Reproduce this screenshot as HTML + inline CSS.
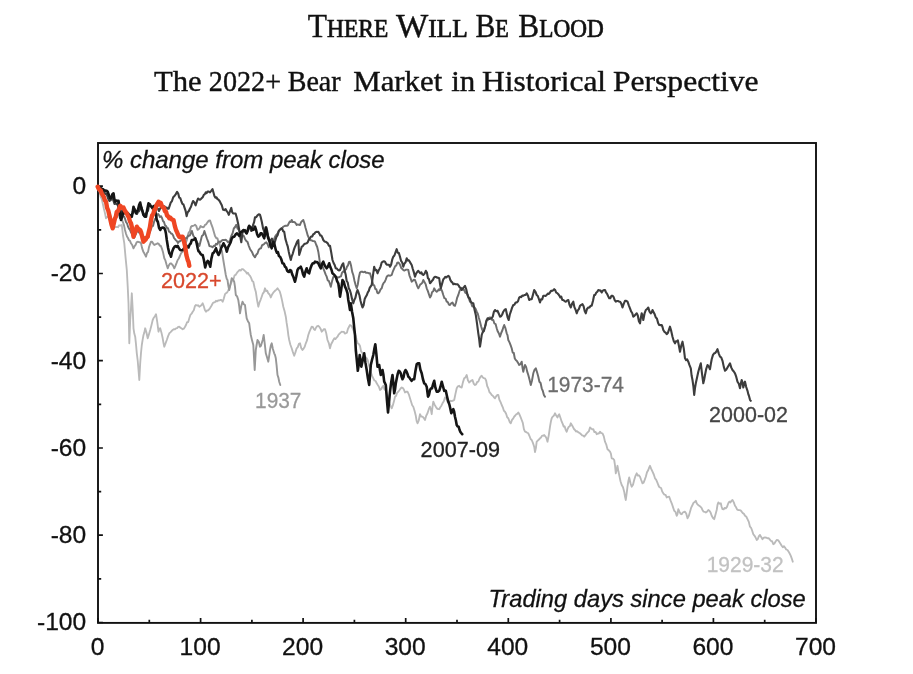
<!DOCTYPE html>
<html><head><meta charset="utf-8"><title>There Will Be Blood</title>
<style>
html,body{margin:0;padding:0;background:#fff;}
body{width:913px;height:674px;overflow:hidden;position:relative;font-family:"Liberation Sans",Arial,sans-serif;}
svg{position:absolute;left:0;top:0;will-change:transform;}
svg text{font-family:"Liberation Sans",Arial,sans-serif;}
svg .ser text{font-family:"Liberation Serif","Times New Roman",serif;}
</style></head><body>
<svg width="913" height="674" viewBox="0 0 913 674">
<rect x="98.0" y="143.0" width="718.0" height="479.9" fill="none" stroke="#111" stroke-width="1.9"/>
<path d="M98.0 622.9 V618.0 M149.3 622.9 V619.7 M200.6 622.9 V618.0 M251.9 622.9 V619.7 M303.1 622.9 V618.0 M354.4 622.9 V619.7 M405.7 622.9 V618.0 M457.0 622.9 V619.7 M508.3 622.9 V618.0 M559.6 622.9 V619.7 M610.9 622.9 V618.0 M662.1 622.9 V619.7 M713.4 622.9 V618.0 M764.7 622.9 V619.7 M816.0 622.9 V618.0 M98.0 622.5 H102.9 M98.0 578.8 H101.2 M98.0 535.2 H102.9 M98.0 491.6 H101.2 M98.0 448.0 H102.9 M98.0 404.4 H101.2 M98.0 360.7 H102.9 M98.0 317.1 H101.2 M98.0 273.5 H102.9 M98.0 229.9 H101.2 M98.0 186.2 H102.9" stroke="#111" stroke-width="1.7" fill="none"/>
<path d="M97.7 186.7 L98.7 189.5 L99.7 192.3 L100.7 197.1 L101.7 198.7 L102.7 203.3 L103.8 208.4 L104.9 212.9 L106.0 218.3 L107.1 216.9 L108.2 217.2 L109.3 216.7 L110.4 219.1 L111.6 224.2 L112.7 228.3 L113.8 227.2 L114.8 226.9 L115.9 227.2 L117.0 227.0 L118.0 227.2 L118.9 225.5 L119.9 225.3 L120.8 225.6 L121.8 225.0 L123.0 235.5 L124.3 243.3 L125.5 256.9 L126.8 270.0 L127.7 286.3 L128.5 303.3 L129.3 343.3 L130.2 320.0 L131.0 308.1 L131.8 293.3 L132.7 309.4 L133.5 328.3 L134.3 333.6 L135.2 336.7 L136.0 344.3 L136.8 353.3 L137.7 360.5 L138.5 370.0 L139.3 380.0 L140.2 363.3 L141.0 353.0 L141.8 345.0 L142.7 339.4 L143.5 335.0 L144.3 332.6 L145.2 328.3 L146.4 332.3 L147.7 338.3 L148.9 334.4 L150.2 330.0 L151.4 325.4 L152.7 320.0 L153.8 317.7 L154.9 316.3 L156.0 314.2 L157.2 321.6 L158.5 331.7 L159.3 328.6 L160.2 328.3 L161.4 332.4 L162.7 338.3 L163.5 343.1 L164.3 346.7 L165.6 343.1 L166.8 340.0 L168.1 336.1 L169.3 333.3 L170.4 332.4 L171.6 331.0 L172.7 330.0 L173.8 329.1 L174.9 329.4 L176.0 328.3 L177.1 328.1 L178.2 326.8 L179.3 326.7 L180.4 327.7 L181.6 328.4 L182.7 329.2 L183.8 328.7 L184.9 327.0 L186.0 325.0 L187.1 322.1 L188.2 322.0 L189.3 318.3 L190.4 314.9 L191.6 313.7 L192.7 311.7 L193.8 310.3 L194.9 306.2 L196.0 305.0 L197.1 305.5 L198.2 305.3 L199.3 306.7 L200.4 306.0 L201.6 305.0 L202.7 303.3 L203.8 306.3 L204.9 310.1 L206.0 311.7 L207.1 310.5 L208.2 310.4 L209.3 309.2 L210.4 307.5 L211.6 305.5 L212.7 303.3 L213.8 302.4 L214.9 302.3 L216.0 300.8 L217.1 301.3 L218.1 300.4 L219.1 300.5 L220.2 300.0 L221.4 300.0 L222.7 301.7 L223.8 298.6 L225.0 294.2 L226.1 293.1 L227.1 292.5 L228.1 290.6 L229.2 288.3 L230.3 284.9 L231.4 282.4 L232.5 280.0 L233.6 278.8 L234.6 275.3 L235.6 274.9 L236.7 273.3 L237.7 271.8 L238.7 270.8 L239.7 269.9 L240.7 270.6 L241.7 269.2 L242.7 269.1 L243.8 269.9 L244.8 270.9 L245.8 271.7 L246.9 273.6 L247.9 272.8 L248.9 274.7 L250.0 275.8 L251.1 277.9 L252.2 280.9 L253.3 281.7 L254.6 287.7 L255.8 291.7 L257.1 300.3 L258.3 306.7 L259.4 302.7 L260.6 299.8 L261.7 296.7 L262.8 293.5 L263.9 292.3 L265.0 288.3 L266.1 291.2 L267.2 290.7 L268.3 293.3 L269.6 294.5 L270.8 297.5 L271.9 294.8 L273.1 292.9 L274.2 291.7 L275.3 290.5 L276.4 289.6 L277.5 288.3 L278.6 289.8 L279.7 291.2 L280.8 295.0 L282.1 300.6 L283.3 306.7 L284.6 311.3 L285.8 316.7 L286.6 322.7 L287.5 328.3 L288.4 335.6 L289.2 340.0 L290.4 344.7 L291.7 348.3 L292.9 352.1 L294.2 355.8 L295.4 352.4 L296.7 348.3 L297.8 347.1 L298.9 343.8 L300.0 343.3 L301.2 347.9 L302.5 350.0 L303.6 348.6 L304.7 346.7 L305.8 343.3 L307.1 340.1 L308.3 335.0 L309.4 331.9 L310.6 329.2 L311.7 326.7 L312.8 326.9 L313.9 329.2 L315.0 330.0 L316.1 327.5 L317.2 326.1 L318.3 325.8 L319.4 326.9 L320.6 328.8 L321.7 331.7 L322.8 330.5 L323.9 329.1 L325.0 329.2 L326.2 333.1 L327.5 340.0 L328.8 343.1 L330.0 348.3 L331.1 344.3 L332.2 342.3 L333.3 340.0 L334.4 338.2 L335.4 339.1 L336.4 337.8 L337.5 336.7 L338.6 334.6 L339.6 333.6 L340.6 332.6 L341.7 331.7 L342.7 331.9 L343.8 331.8 L344.8 333.5 L345.8 333.3 L346.9 332.7 L347.9 329.0 L348.9 327.0 L350.0 325.0 L351.1 325.5 L352.2 327.3 L353.3 330.0 L354.4 332.8 L355.6 335.9 L356.7 340.0 L357.8 343.5 L358.9 344.0 L360.0 346.0 L361.1 351.4 L362.2 352.6 L363.3 355.0 L364.4 355.3 L365.6 357.3 L366.7 358.3 L367.8 360.2 L368.9 365.1 L370.0 368.3 L371.1 373.1 L372.2 376.1 L373.3 378.3 L374.4 380.5 L375.6 381.0 L376.7 383.3 L377.8 385.1 L378.9 386.7 L380.0 390.0 L381.1 389.3 L382.2 387.3 L383.3 385.8 L384.4 389.2 L385.6 390.3 L386.7 393.3 L387.7 395.4 L388.7 400.3 L389.7 403.8 L390.7 406.4 L391.7 408.3 L392.8 405.4 L393.9 401.6 L395.0 396.7 L396.1 395.7 L397.2 392.6 L398.3 391.7 L399.4 390.3 L400.6 388.5 L401.7 387.5 L402.8 387.9 L403.9 389.6 L405.0 392.5 L406.2 391.7 L407.5 391.7 L408.8 394.3 L410.0 398.3 L411.1 401.7 L412.2 405.3 L413.3 406.7 L414.6 411.1 L415.8 415.8 L416.6 420.9 L417.5 423.3 L418.8 420.3 L420.0 414.2 L421.2 416.5 L422.5 416.7 L423.8 418.0 L425.0 420.0 L426.2 415.8 L427.5 413.3 L428.8 409.2 L430.0 406.7 L430.9 409.5 L431.7 414.2 L432.5 407.0 L433.3 401.7 L434.6 404.6 L435.8 406.7 L436.9 408.4 L438.1 409.1 L439.2 409.2 L440.3 407.2 L441.4 405.7 L442.5 403.3 L443.8 401.3 L445.0 397.5 L446.2 398.4 L447.5 401.7 L448.6 401.7 L449.7 401.8 L450.8 400.8 L451.9 401.0 L453.1 400.7 L454.2 400.0 L455.4 394.1 L456.7 388.3 L457.9 386.3 L459.2 385.8 L460.4 387.2 L461.7 387.5 L462.9 382.4 L464.2 378.3 L465.4 377.4 L466.7 375.0 L467.9 380.2 L469.2 382.5 L470.3 381.4 L471.4 380.6 L472.5 380.0 L473.8 383.9 L475.0 385.0 L476.1 384.4 L477.2 382.0 L478.3 381.7 L479.4 378.7 L480.6 376.8 L481.7 375.8 L482.8 377.5 L483.9 378.1 L485.0 378.3 L486.1 380.5 L487.2 386.0 L488.3 388.3 L489.4 392.0 L490.6 393.3 L491.7 395.0 L492.8 395.8 L493.9 397.3 L495.0 398.3 L496.1 396.4 L497.2 395.0 L498.3 395.0 L499.4 399.8 L500.6 402.1 L501.7 405.0 L502.8 407.3 L503.9 410.8 L505.0 411.7 L506.1 413.7 L507.2 417.3 L508.3 418.3 L509.6 421.8 L510.8 423.3 L512.0 419.9 L513.3 418.3 L514.3 416.5 L515.3 415.5 L516.3 414.2 L517.3 413.9 L518.3 412.5 L519.4 414.3 L520.6 417.2 L521.7 420.0 L522.8 422.8 L523.9 429.1 L525.0 431.7 L526.1 432.0 L527.2 432.7 L528.3 433.3 L529.4 435.8 L530.6 439.0 L531.7 440.0 L533.0 443.1 L534.2 446.7 L535.0 452.0 L535.9 448.1 L536.7 441.7 L537.8 440.6 L538.9 439.5 L540.0 438.3 L541.0 437.5 L542.1 435.6 L543.2 435.7 L544.2 435.0 L545.3 436.3 L546.4 437.9 L547.5 441.7 L548.8 435.1 L550.0 426.7 L550.9 421.5 L551.7 418.3 L552.8 416.6 L553.9 415.6 L555.0 413.3 L556.2 415.6 L557.5 417.5 L558.4 415.3 L559.2 414.2 L560.5 418.0 L561.7 421.7 L562.7 423.9 L563.7 426.6 L564.7 426.5 L565.7 429.9 L566.7 431.7 L567.7 428.8 L568.8 426.8 L569.8 426.2 L570.8 423.3 L571.8 425.0 L572.9 426.8 L574.0 429.0 L575.0 430.0 L576.0 431.5 L577.0 431.2 L578.0 432.2 L579.0 432.7 L580.0 433.3 L581.0 434.2 L582.1 435.4 L583.2 435.7 L584.2 436.7 L585.3 435.4 L586.4 433.8 L587.5 432.5 L588.8 431.4 L590.0 427.5 L591.1 428.4 L592.2 429.4 L593.3 429.2 L594.4 432.1 L595.6 431.9 L596.7 434.2 L597.8 433.5 L598.9 433.5 L600.0 431.7 L601.2 433.2 L602.5 433.3 L603.8 436.4 L605.0 441.7 L606.2 444.3 L607.5 449.2 L608.8 450.3 L610.0 451.7 L610.9 453.7 L611.7 458.3 L613.0 458.6 L614.2 460.0 L615.0 465.3 L615.8 473.3 L616.6 470.1 L617.5 465.8 L618.4 471.3 L619.2 475.0 L620.5 481.2 L621.7 485.0 L623.0 487.3 L624.2 491.7 L625.0 496.5 L625.8 500.0 L626.6 493.8 L627.5 486.7 L628.4 481.0 L629.2 477.5 L630.5 483.3 L631.7 486.7 L633.0 484.8 L634.2 480.0 L635.5 475.8 L636.7 473.3 L637.8 475.5 L638.9 475.3 L640.0 476.7 L641.2 480.0 L642.5 483.3 L643.6 482.6 L644.7 479.9 L645.8 476.7 L647.0 472.3 L648.3 470.0 L649.1 467.7 L650.0 465.8 L651.2 468.8 L652.5 471.7 L653.8 474.5 L655.0 478.3 L656.1 479.6 L657.2 482.2 L658.3 485.0 L659.1 486.8 L660.0 487.5 L661.1 488.0 L662.2 491.5 L663.3 493.3 L664.4 494.6 L665.6 494.9 L666.7 497.5 L668.0 496.8 L669.2 496.7 L670.5 500.4 L671.7 503.3 L673.0 507.1 L674.2 510.8 L675.5 511.9 L676.7 515.8 L677.5 514.0 L678.3 509.2 L679.4 511.6 L680.6 513.8 L681.7 514.2 L682.8 512.5 L683.9 512.0 L685.0 511.7 L686.2 513.6 L687.5 518.3 L688.8 515.9 L690.0 511.7 L691.2 507.6 L692.5 505.0 L693.6 502.7 L694.7 502.0 L695.8 500.8 L696.9 503.6 L698.1 505.0 L699.2 505.8 L700.3 506.6 L701.4 507.7 L702.5 510.0 L703.6 511.7 L704.7 511.8 L705.8 512.5 L707.0 511.7 L708.3 510.0 L709.4 510.8 L710.6 512.6 L711.7 515.8 L713.0 518.0 L714.2 519.2 L715.5 514.4 L716.7 510.0 L717.5 504.9 L718.3 502.5 L719.5 503.7 L720.8 503.3 L721.6 506.7 L722.5 509.2 L723.6 509.4 L724.7 507.9 L725.8 508.3 L727.0 506.9 L728.3 503.3 L729.3 501.6 L730.4 502.4 L731.5 500.7 L732.5 500.0 L733.8 502.4 L735.0 505.8 L736.1 507.3 L737.2 509.7 L738.3 510.0 L739.4 510.1 L740.6 510.4 L741.7 511.7 L742.8 513.1 L743.9 513.8 L745.0 515.8 L746.2 516.5 L747.5 519.2 L748.8 521.9 L750.0 526.7 L751.1 527.8 L752.2 530.8 L753.3 534.2 L754.4 535.6 L755.6 537.5 L756.7 540.0 L757.8 539.0 L758.9 536.1 L760.0 535.0 L761.2 537.1 L762.5 539.2 L763.8 537.7 L765.0 537.5 L766.2 537.6 L767.5 538.3 L768.6 538.1 L769.7 539.4 L770.8 540.8 L772.0 541.2 L773.3 544.2 L774.4 543.4 L775.6 541.5 L776.7 540.0 L778.0 540.2 L779.2 541.7 L780.5 543.7 L781.7 545.8 L782.8 547.2 L783.9 546.2 L785.0 547.5 L786.2 549.5 L787.5 550.0 L788.8 551.9 L790.0 554.2 L790.9 556.2 L791.7 558.3 L792.8 561.7" fill="none" stroke="#bababa" stroke-width="1.85" stroke-linejoin="round" stroke-linecap="round"/>
<path d="M98.0 187.1 L99.0 189.2 L100.0 189.4 L101.0 191.0 L102.0 193.0 L103.0 195.6 L104.0 197.0 L105.0 201.2 L106.0 201.8 L107.0 205.0 L108.0 209.0 L109.0 211.6 L110.0 214.0 L111.0 218.4 L112.0 221.7 L113.0 226.0 L114.0 222.9 L115.0 219.3 L116.0 218.0 L117.0 215.7 L118.0 214.2 L119.0 214.0 L120.0 216.7 L121.0 217.2 L122.0 220.0 L123.0 222.3 L124.0 225.4 L125.0 230.0 L126.0 233.7 L127.0 236.5 L128.0 238.0 L129.0 240.3 L130.0 240.9 L131.0 243.3 L132.2 245.0 L133.5 248.3 L134.6 246.1 L135.6 244.9 L136.6 242.4 L137.7 241.7 L138.8 242.1 L139.9 242.3 L141.0 243.3 L142.1 248.1 L143.2 251.4 L144.3 253.3 L145.2 255.1 L146.0 256.7 L147.0 252.9 L148.0 252.1 L149.0 247.1 L150.0 244.3 L151.0 241.7 L152.1 241.7 L153.2 243.6 L154.3 245.0 L155.4 244.4 L156.6 243.9 L157.7 243.3 L158.7 243.8 L159.8 245.8 L160.8 245.8 L161.8 248.3 L163.1 252.6 L164.3 258.3 L165.4 260.4 L166.6 264.7 L167.7 268.3 L168.8 265.4 L169.9 263.7 L171.0 263.3 L172.1 264.4 L173.2 265.9 L174.3 268.3 L175.4 265.8 L176.6 262.9 L177.7 260.0 L178.8 258.5 L179.9 256.0 L181.0 253.3 L182.1 252.2 L183.2 251.0 L184.3 248.3 L185.6 243.8 L186.8 240.0 L187.8 235.6 L188.8 232.3 L189.8 231.7 L190.9 227.0 L191.9 226.0 L192.9 226.0 L194.0 225.5 L195.0 224.8 L196.2 225.9 L197.5 229.8 L198.5 229.4 L199.6 228.2 L200.6 226.0 L201.8 226.9 L203.1 227.3 L204.1 226.6 L205.0 224.8 L206.2 224.3 L207.5 222.3 L208.8 220.6 L210.0 220.4 L211.2 223.9 L212.5 227.3 L213.8 231.7 L215.0 236.0 L216.2 238.0 L217.5 238.5 L218.4 241.9 L219.4 243.5 L220.7 248.3 L221.9 251.0 L223.3 260.0 L224.6 267.8 L225.8 275.0 L226.7 278.7 L227.5 280.0 L228.3 285.6 L229.2 290.0 L230.4 284.7 L231.7 278.3 L232.9 279.3 L234.2 281.7 L235.0 286.9 L235.8 295.0 L237.1 296.4 L238.3 300.0 L239.2 306.2 L240.0 313.3 L241.2 306.3 L242.5 301.7 L243.8 304.2 L245.0 305.0 L245.8 311.8 L246.7 318.3 L247.9 321.2 L249.2 323.3 L250.0 329.5 L250.8 335.0 L252.1 340.6 L253.3 345.0 L254.7 370.0 L255.8 350.0 L256.6 345.0 L257.5 340.0 L258.8 341.8 L260.0 346.7 L260.9 345.9 L261.7 343.3 L262.7 339.9 L263.7 335.0 L264.8 344.2 L265.8 353.3 L267.1 357.6 L268.3 361.7 L269.1 356.3 L270.0 350.0 L270.9 345.3 L271.7 343.3 L272.9 349.0 L274.2 353.3 L275.0 355.0 L275.8 358.3 L276.6 365.3 L277.5 375.0 L278.4 377.6 L279.2 381.7 L280.3 385.0" fill="none" stroke="#979797" stroke-width="1.9" stroke-linejoin="round" stroke-linecap="round"/>
<path d="M98.0 187.1 L99.0 189.4 L100.0 189.5 L101.0 192.0 L102.0 194.7 L103.0 197.5 L104.0 198.0 L105.0 201.0 L106.0 203.6 L107.0 207.0 L108.0 209.9 L109.0 213.6 L110.0 216.0 L111.0 219.5 L112.0 221.7 L113.0 224.0 L114.0 221.4 L115.0 216.7 L116.0 215.0 L117.0 212.3 L118.0 211.0 L119.0 210.0 L120.0 212.0 L121.0 212.2 L122.0 214.0 L123.0 216.2 L124.0 216.5 L125.0 218.6 L126.0 222.0 L127.0 223.3 L128.0 226.5 L129.0 228.6 L130.0 230.0 L131.0 232.5 L132.0 233.4 L133.0 236.1 L134.0 238.0 L135.0 235.9 L136.0 233.9 L137.0 230.8 L138.0 230.0 L139.0 232.6 L140.0 232.2 L141.0 235.8 L142.0 236.0 L143.0 238.0 L144.0 236.9 L145.0 238.9 L146.0 240.0 L147.0 239.0 L148.0 237.5 L149.0 233.8 L150.0 232.0 L151.0 228.8 L152.0 226.1 L153.0 225.9 L154.0 222.0 L155.0 219.1 L156.0 218.3 L157.0 214.9 L158.0 214.0 L159.0 215.1 L160.0 217.0 L161.0 216.2 L162.0 218.0 L163.0 221.0 L164.0 222.0 L165.0 225.2 L166.0 226.0 L167.0 228.0 L168.0 228.3 L169.0 231.6 L170.0 232.0 L171.0 233.5 L172.0 233.7 L173.0 235.2 L174.0 238.0 L175.0 239.2 L176.0 240.4 L177.0 241.3 L178.0 243.0 L179.0 241.5 L180.0 241.2 L181.0 240.4 L182.0 240.0 L183.0 240.1 L184.0 238.1 L185.0 239.0 L186.0 238.0 L186.9 238.0 L187.9 235.9 L188.8 236.0 L189.8 235.5 L190.9 233.3 L191.9 231.0 L193.2 235.4 L194.4 237.3 L195.7 239.1 L196.9 242.3 L198.2 243.8 L199.4 246.0 L200.7 240.7 L201.9 236.0 L203.2 235.0 L204.4 231.0 L205.7 235.0 L206.9 238.5 L208.2 241.8 L209.4 246.0 L210.4 246.3 L211.5 246.5 L212.5 247.3 L213.8 245.8 L215.0 246.0 L216.0 243.8 L217.1 244.4 L218.1 242.3 L219.2 241.5 L220.2 242.2 L221.3 241.0 L222.2 240.3 L223.2 240.0 L224.1 240.1 L225.0 239.8 L226.0 240.0 L227.1 241.2 L228.1 242.3 L229.2 241.6 L230.2 239.3 L231.3 236.0 L232.6 233.2 L233.8 228.5 L235.1 227.0 L236.3 224.8 L237.6 228.6 L238.8 229.8 L240.1 233.7 L241.3 234.8 L242.6 235.5 L243.8 236.0 L245.1 239.2 L246.3 241.0 L247.6 242.1 L248.8 246.0 L250.1 249.2 L251.3 251.0 L252.2 252.4 L253.2 254.9 L254.1 256.1 L255.0 257.3 L256.2 254.8 L257.5 253.5 L258.8 249.6 L260.0 248.5 L261.0 248.3 L262.1 245.1 L263.1 244.8 L264.2 243.9 L265.2 242.8 L266.3 242.3 L267.6 244.2 L268.8 247.3 L270.1 245.5 L271.3 242.3 L272.6 242.1 L273.8 239.8 L275.1 236.6 L276.3 234.8 L277.6 233.3 L278.8 231.0 L279.7 229.7 L280.6 229.4 L281.6 228.1 L282.5 227.5 L283.6 226.5 L284.6 226.0 L285.6 225.7 L286.7 225.8 L287.7 225.6 L288.7 223.5 L289.7 221.6 L290.7 222.1 L291.7 220.0 L292.7 222.1 L293.7 221.9 L294.7 222.2 L295.7 223.3 L296.7 225.0 L297.8 224.4 L298.9 224.8 L300.0 225.0 L301.1 222.2 L302.2 221.0 L303.3 220.0 L304.4 223.2 L305.6 228.0 L306.7 231.7 L307.8 235.7 L308.9 238.0 L310.0 240.0 L311.0 240.2 L312.0 240.5 L313.0 241.1 L314.0 241.1 L315.0 241.7 L316.1 244.5 L317.2 247.0 L318.3 251.7 L319.1 256.8 L320.0 263.3 L321.1 266.2 L322.2 265.6 L323.3 268.3 L324.4 271.1 L325.6 274.3 L326.7 276.7 L327.7 280.3 L328.8 280.8 L329.8 283.5 L330.8 286.7 L332.1 281.1 L333.3 277.0 L334.4 276.8 L335.6 276.9 L336.7 277.0 L337.8 277.6 L338.9 277.3 L340.0 276.7 L341.0 276.3 L342.0 272.8 L343.0 271.5 L344.0 271.9 L345.0 270.0 L346.0 269.5 L347.0 266.6 L348.0 265.3 L349.0 261.9 L350.0 261.7 L351.1 265.8 L352.2 271.9 L353.3 275.0 L354.4 280.4 L355.6 285.0 L356.7 288.3 L357.8 284.5 L358.9 277.0 L360.0 272.5 L361.0 271.7 L362.0 271.6 L363.0 272.1 L364.0 272.2 L365.0 271.7 L366.0 272.8 L367.0 272.7 L368.0 272.9 L369.0 273.4 L370.0 273.3 L371.1 277.1 L372.2 281.3 L373.3 285.0 L374.3 285.4 L375.3 289.1 L376.3 289.2 L377.3 292.8 L378.3 293.3 L379.4 292.0 L380.6 289.4 L381.7 288.3 L382.7 284.8 L383.7 282.9 L384.7 281.8 L385.7 279.6 L386.7 276.7 L387.7 275.7 L388.7 275.3 L389.7 275.7 L390.7 275.5 L391.7 275.0 L392.9 271.3 L394.2 268.3 L395.2 266.1 L396.2 265.7 L397.3 262.7 L398.3 262.5 L399.3 263.5 L400.3 265.4 L401.3 268.2 L402.3 268.9 L403.3 270.0 L404.3 270.6 L405.3 270.0 L406.3 269.6 L407.3 269.6 L408.3 270.0 L409.4 275.3 L410.6 278.4 L411.7 281.7 L412.8 280.8 L413.9 279.7 L415.0 280.0 L416.1 282.8 L417.2 286.1 L418.3 288.3 L419.3 286.4 L420.3 284.3 L421.3 283.8 L422.3 282.9 L423.3 280.0 L424.4 281.9 L425.6 284.1 L426.7 288.3 L427.8 290.9 L428.9 294.2 L430.0 297.5 L431.1 295.8 L432.1 292.0 L433.1 291.5 L434.2 288.3 L435.4 290.6 L436.7 291.7 L437.7 290.9 L438.8 289.4 L439.8 290.2 L440.8 288.3 L442.1 291.1 L443.3 295.0 L444.4 298.2 L445.6 298.6 L446.7 301.7 L447.8 302.2 L448.9 304.5 L450.0 305.0 L451.2 303.3 L452.5 302.5 L453.8 305.3 L455.0 305.8 L456.1 302.2 L457.2 297.6 L458.3 295.0 L459.6 290.8 L460.8 288.3 L461.9 288.7 L463.1 289.7 L464.2 290.0 L465.4 292.8 L466.7 293.3 L467.8 295.0 L468.9 298.6 L470.0 301.7 L471.1 302.6 L472.2 306.3 L473.3 306.7 L474.4 307.4 L475.6 308.8 L476.7 311.7 L477.8 313.7 L478.9 318.0 L480.0 321.7 L481.1 326.3 L482.2 329.6 L483.3 331.7 L484.4 328.5 L485.6 325.4 L486.7 320.0 L487.8 320.1 L488.9 318.0 L490.0 317.5 L491.1 317.7 L492.2 320.1 L493.3 320.0 L494.4 323.5 L495.6 324.1 L496.7 328.3 L497.8 331.6 L498.9 333.5 L500.0 336.7 L501.2 333.0 L502.5 330.0 L503.4 327.0 L504.2 325.0 L505.4 328.1 L506.7 333.3 L507.5 335.1 L508.3 340.0 L509.4 342.1 L510.6 345.1 L511.7 348.3 L512.7 352.6 L513.8 353.0 L514.8 358.5 L515.8 360.0 L516.9 360.9 L518.1 362.9 L519.2 365.0 L520.5 364.2 L521.7 361.7 L522.5 367.7 L523.3 371.7 L524.1 368.1 L525.0 365.0 L526.1 366.9 L527.2 371.6 L528.3 375.0 L529.5 379.6 L530.8 385.0 L532.0 380.5 L533.3 373.3 L534.5 369.8 L535.8 368.3 L537.0 372.1 L538.3 376.7 L539.4 381.8 L540.6 383.0 L541.7 388.3 L542.8 390.8 L543.9 394.9 L545.0 396.7" fill="none" stroke="#6e6e6e" stroke-width="1.95" stroke-linejoin="round" stroke-linecap="round"/>
<path d="M98.0 187.1 L99.0 188.5 L100.0 187.7 L101.0 189.5 L102.0 189.3 L103.0 190.2 L104.0 192.0 L105.0 194.0 L106.0 193.4 L107.0 195.0 L108.2 198.8 L109.5 201.0 L110.8 200.1 L112.0 197.0 L113.2 200.0 L114.5 204.0 L115.5 203.3 L116.5 204.1 L117.5 203.0 L118.8 210.9 L120.0 218.0 L121.2 213.3 L122.5 210.0 L123.6 211.2 L124.8 211.1 L125.9 211.8 L127.0 213.0 L128.0 212.7 L129.0 215.0 L130.0 216.1 L131.0 216.0 L132.0 214.1 L133.0 212.7 L134.0 209.0 L135.0 209.3 L136.0 211.6 L137.0 214.0 L138.0 211.9 L139.0 211.4 L140.0 209.4 L141.0 206.0 L142.0 209.0 L143.0 211.9 L144.0 216.0 L145.0 214.5 L146.0 213.3 L147.0 212.0 L148.0 210.7 L149.0 205.7 L150.0 204.0 L151.0 206.5 L152.0 208.0 L153.0 209.0 L154.0 208.7 L155.0 207.6 L156.0 206.0 L157.0 208.0 L158.0 208.8 L159.0 211.0 L160.0 208.8 L161.0 207.3 L162.0 206.0 L163.2 207.1 L164.3 206.3 L165.5 207.7 L166.6 207.5 L167.6 208.8 L168.7 208.7 L169.8 205.4 L170.8 202.4 L171.9 201.3 L173.2 197.2 L174.5 196.0 L175.8 194.1 L177.1 191.9 L178.2 193.5 L179.2 197.6 L180.3 198.2 L181.4 201.5 L182.4 203.9 L183.5 204.5 L184.5 207.6 L185.6 210.9 L186.6 216.1 L187.7 212.3 L188.9 211.0 L190.0 208.5 L191.0 206.7 L192.1 203.3 L193.1 201.0 L194.3 202.4 L195.6 205.4 L196.8 201.7 L198.1 198.5 L199.1 199.4 L200.0 199.8 L200.9 199.0 L201.9 197.9 L202.9 196.9 L203.8 194.8 L204.7 194.4 L205.7 192.4 L206.6 193.1 L207.5 191.6 L208.8 191.6 L210.0 192.3 L211.2 190.9 L212.5 189.1 L213.4 192.2 L214.4 196.0 L215.4 197.6 L216.5 197.4 L217.5 199.1 L218.5 199.7 L219.6 201.0 L220.6 202.9 L221.8 205.3 L223.1 209.8 L224.3 210.1 L225.6 209.1 L226.7 211.2 L227.7 212.4 L228.8 214.8 L230.1 211.0 L231.3 207.9 L232.2 212.2 L233.1 213.5 L234.3 213.5 L235.6 213.5 L236.8 217.7 L238.1 223.5 L239.4 231.0 L240.4 237.6 L241.3 242.3 L242.5 232.3 L243.8 231.4 L245.0 229.8 L245.9 233.2 L246.9 233.5 L247.9 228.5 L248.8 226.0 L250.1 228.4 L251.3 231.0 L252.2 228.9 L253.1 224.8 L254.1 222.1 L255.0 217.3 L256.2 217.2 L257.5 215.4 L258.8 214.3 L260.0 214.8 L260.9 217.9 L261.9 222.3 L263.1 228.5 L264.1 231.1 L265.0 236.0 L266.3 227.3 L267.2 230.7 L268.1 236.0 L269.1 240.0 L270.0 241.0 L270.9 240.0 L271.9 238.5 L272.9 243.6 L273.8 246.0 L275.1 241.3 L276.3 237.3 L277.6 235.3 L278.8 231.0 L280.1 229.6 L281.3 228.5 L282.3 229.0 L283.2 231.3 L284.2 231.7 L285.4 238.9 L286.7 243.3 L287.7 246.3 L288.8 251.9 L289.8 256.2 L290.8 260.0 L291.8 256.1 L292.8 253.6 L293.8 249.9 L294.8 247.1 L295.8 245.0 L297.1 241.7 L298.3 240.0 L299.2 255.0 L300.4 251.2 L301.7 246.7 L302.7 246.3 L303.7 244.7 L304.7 243.7 L305.7 243.6 L306.7 243.3 L307.8 242.2 L308.9 239.4 L310.0 238.3 L311.1 236.5 L312.2 236.5 L313.3 234.2 L314.3 233.8 L315.3 232.4 L316.3 231.9 L317.3 232.0 L318.3 231.7 L319.3 233.5 L320.3 235.4 L321.3 235.5 L322.3 237.4 L323.3 240.0 L324.4 241.4 L325.5 241.7 L326.6 242.4 L327.8 243.4 L328.9 245.8 L330.0 245.8 L331.2 252.3 L332.5 260.0 L333.6 263.0 L334.7 265.1 L335.8 268.3 L336.9 268.6 L337.9 269.8 L338.9 270.5 L340.0 270.0 L341.1 267.3 L342.2 264.6 L343.3 263.3 L344.4 269.9 L345.6 274.2 L346.7 281.0 L347.7 282.5 L348.8 288.4 L349.8 290.0 L350.8 293.3 L352.1 299.3 L353.3 303.3 L354.4 299.7 L355.4 297.8 L356.4 293.2 L357.5 290.0 L358.5 292.5 L359.5 295.5 L360.5 300.7 L361.5 304.4 L362.5 307.5 L363.6 305.2 L364.7 299.0 L365.8 296.7 L366.8 295.1 L367.8 292.4 L368.8 290.9 L369.7 287.8 L370.7 286.3 L371.7 285.0 L372.9 275.9 L374.2 266.7 L375.3 270.2 L376.4 269.9 L377.5 273.3 L378.6 270.6 L379.6 268.8 L380.6 266.6 L381.7 262.5 L382.8 261.7 L383.9 261.3 L385.0 261.7 L386.0 263.7 L387.0 264.8 L388.0 264.7 L389.0 264.7 L390.0 266.7 L391.1 264.7 L392.2 259.7 L393.3 256.7 L394.4 255.5 L395.6 252.1 L396.7 249.2 L397.8 252.7 L398.9 253.1 L400.0 256.7 L401.1 260.9 L402.2 262.5 L403.3 266.7 L404.4 263.6 L405.6 262.2 L406.7 258.3 L407.7 260.5 L408.7 260.2 L409.7 261.6 L410.7 263.4 L411.7 265.0 L412.8 269.0 L413.9 272.4 L415.0 276.7 L416.1 273.6 L417.2 272.0 L418.3 270.8 L419.3 272.1 L420.3 273.3 L421.3 272.3 L422.3 274.3 L423.3 275.0 L424.6 273.6 L425.8 270.8 L426.9 272.5 L427.9 278.1 L428.9 279.0 L430.0 283.3 L431.0 282.2 L432.0 280.8 L433.0 279.7 L434.0 277.5 L435.0 276.7 L436.1 277.0 L437.1 277.6 L438.1 277.8 L439.2 278.3 L440.0 283.8 L440.8 288.3 L442.1 283.6 L443.3 279.2 L444.3 278.4 L445.3 276.9 L446.3 277.4 L447.3 276.5 L448.3 275.8 L449.3 276.7 L450.3 279.9 L451.3 281.6 L452.3 282.4 L453.3 284.2 L454.4 283.7 L455.6 284.2 L456.7 284.2 L457.7 284.4 L458.7 285.6 L459.7 287.5 L460.7 287.8 L461.7 290.0 L462.8 288.5 L463.9 287.2 L465.0 285.8 L466.2 289.0 L467.5 295.0 L468.6 297.7 L469.7 298.2 L470.8 301.7 L472.1 303.0 L473.3 303.3 L474.6 310.0 L475.8 315.0 L477.1 324.2 L478.3 333.3 L479.1 338.6 L480.0 346.7 L480.9 340.9 L481.7 335.0 L482.8 331.9 L483.9 330.9 L485.0 326.7 L486.2 321.4 L487.5 318.3 L488.6 318.8 L489.6 319.0 L490.6 318.6 L491.7 318.3 L492.8 316.5 L493.9 311.8 L495.0 310.0 L496.2 311.2 L497.5 310.8 L498.8 313.7 L500.0 316.7 L501.1 316.3 L502.2 314.5 L503.3 311.7 L504.6 309.7 L505.8 309.2 L506.8 313.7 L507.7 317.7 L508.7 320.0 L509.8 314.5 L510.8 311.7 L512.0 307.9 L513.3 305.0 L514.4 304.7 L515.6 302.6 L516.7 302.5 L518.0 301.2 L519.2 297.5 L520.2 296.7 L521.2 297.2 L522.3 295.6 L523.3 295.8 L524.4 295.0 L525.6 295.0 L526.7 293.3 L528.0 295.7 L529.2 300.0 L530.5 299.2 L531.7 299.2 L533.0 294.6 L534.2 290.0 L535.5 291.9 L536.7 295.0 L537.8 296.1 L538.9 299.0 L540.0 302.5 L541.1 299.2 L542.2 299.4 L543.3 295.8 L544.4 295.8 L545.6 295.9 L546.7 295.0 L547.8 293.5 L548.9 293.9 L550.0 292.5 L551.0 290.9 L552.1 290.9 L553.2 290.3 L554.2 289.2 L555.2 290.1 L556.2 292.6 L557.3 293.1 L558.3 294.2 L559.3 295.6 L560.3 297.4 L561.3 296.7 L562.3 300.0 L563.3 300.0 L564.5 301.1 L565.8 301.7 L567.0 300.6 L568.3 300.0 L569.5 304.7 L570.8 307.5 L572.0 303.9 L573.3 301.7 L574.4 307.1 L575.6 309.7 L576.7 313.3 L577.8 310.4 L578.9 309.1 L580.0 305.8 L581.2 304.9 L582.5 304.2 L583.6 306.2 L584.7 311.0 L585.8 313.3 L587.0 309.0 L588.3 307.5 L589.4 307.5 L590.6 305.9 L591.7 305.8 L593.0 300.8 L594.2 295.0 L595.2 294.9 L596.2 292.7 L597.3 291.7 L598.3 290.0 L599.4 290.4 L600.6 290.6 L601.7 292.5 L602.8 290.7 L603.9 290.1 L605.0 290.0 L606.0 292.4 L607.1 293.9 L608.2 296.3 L609.2 298.3 L610.3 298.3 L611.4 295.9 L612.5 295.8 L613.6 297.0 L614.7 300.2 L615.8 301.7 L616.8 301.0 L617.9 301.0 L619.0 301.5 L620.0 301.7 L621.2 303.4 L622.5 307.5 L623.8 303.7 L625.0 300.8 L626.2 300.8 L627.5 301.7 L628.8 305.3 L630.0 308.3 L631.1 311.4 L632.2 313.0 L633.3 316.7 L634.4 315.9 L635.6 314.4 L636.7 313.3 L637.8 315.5 L638.9 321.3 L640.0 323.3 L640.9 317.5 L641.7 313.3 L642.5 315.6 L643.3 320.0 L644.5 313.7 L645.8 310.0 L647.0 309.1 L648.3 307.5 L649.5 311.6 L650.8 313.3 L651.6 312.5 L652.5 310.0 L653.6 312.2 L654.7 314.3 L655.8 317.5 L656.9 318.5 L658.1 322.9 L659.2 325.0 L660.5 325.1 L661.7 325.0 L662.5 327.0 L663.3 330.0 L664.4 331.8 L665.6 332.7 L666.7 334.2 L667.8 333.1 L668.9 329.9 L670.0 326.7 L671.2 330.9 L672.5 336.7 L673.8 341.3 L675.0 343.3 L675.9 341.2 L676.9 341.4 L677.8 340.3 L678.9 345.7 L680.0 351.7 L681.2 345.9 L682.5 341.7 L683.8 348.6 L685.0 358.3 L686.1 360.1 L687.2 359.4 L688.3 361.7 L689.5 365.2 L690.8 368.3 L691.6 375.5 L692.5 380.0 L693.4 386.4 L694.2 395.0 L695.0 388.2 L695.8 383.3 L697.0 377.8 L698.3 371.7 L699.5 367.5 L700.8 363.3 L702.0 373.7 L703.3 383.3 L704.1 380.1 L705.0 375.0 L706.2 369.0 L707.5 365.0 L708.8 366.6 L710.0 369.2 L710.9 363.6 L711.7 359.2 L713.0 354.9 L714.2 353.3 L715.3 352.9 L716.4 351.3 L717.5 349.2 L718.8 353.6 L720.0 356.7 L721.2 357.4 L722.5 360.8 L723.8 366.9 L725.0 370.8 L726.2 369.8 L727.5 367.5 L728.8 365.3 L730.0 363.3 L731.2 367.4 L732.5 370.0 L733.8 371.5 L735.0 373.3 L736.2 376.7 L737.5 381.7 L738.8 383.8 L740.0 388.3 L740.9 383.3 L741.7 380.0 L742.5 382.3 L743.3 387.5 L744.1 384.1 L745.0 381.7 L746.2 387.0 L747.5 390.8 L748.4 394.4 L749.2 396.7 L750.0 399.8 L750.8 400.8" fill="none" stroke="#3d3d3d" stroke-width="2.1" stroke-linejoin="round" stroke-linecap="round"/>
<path d="M97.7 186.7 L98.8 187.6 L99.9 187.3 L101.0 188.3 L102.1 189.0 L103.2 189.3 L104.3 190.5 L105.5 190.6 L106.6 190.7 L107.7 191.7 L109.0 195.4 L110.2 198.3 L111.3 197.9 L112.4 194.2 L113.5 193.3 L114.3 198.7 L115.2 201.7 L116.3 200.6 L117.4 200.7 L118.5 200.8 L119.8 209.6 L121.0 220.0 L122.2 216.6 L123.5 211.7 L124.5 213.2 L125.6 213.4 L126.6 213.2 L127.7 215.0 L128.7 214.5 L129.7 214.9 L130.8 216.9 L131.8 216.7 L132.7 212.1 L133.5 206.7 L134.8 210.6 L136.0 213.3 L137.1 211.1 L138.1 209.4 L139.1 205.1 L140.2 202.5 L141.3 207.7 L142.4 211.4 L143.5 215.0 L144.8 216.6 L146.0 216.7 L147.2 209.8 L148.5 203.3 L149.6 205.1 L150.6 206.0 L151.6 206.6 L152.7 208.3 L153.5 206.3 L154.3 205.8 L155.6 213.3 L156.8 220.0 L157.9 222.0 L159.1 227.9 L160.2 230.0 L161.4 227.9 L162.7 227.5 L163.9 227.7 L165.2 230.0 L166.0 233.8 L166.8 240.0 L168.1 248.0 L169.3 253.3 L170.2 254.5 L171.0 256.7 L172.2 251.4 L173.5 248.3 L174.6 246.7 L175.6 246.1 L176.6 246.8 L177.7 245.8 L178.9 248.3 L180.2 250.0 L181.4 250.3 L182.7 250.0 L183.9 248.6 L185.2 245.8 L186.3 245.5 L187.4 247.1 L188.5 247.5 L189.6 244.6 L190.7 243.5 L191.8 240.0 L192.9 240.0 L194.1 239.6 L195.2 238.3 L196.4 242.0 L197.7 248.3 L198.5 251.1 L199.3 251.7 L200.4 253.7 L201.6 254.9 L202.7 255.0 L203.9 260.0 L205.2 267.5 L206.4 263.2 L207.7 260.8 L208.9 262.5 L210.2 266.7 L211.4 258.6 L212.7 253.3 L213.8 252.6 L214.9 250.8 L216.0 248.3 L217.2 252.1 L218.5 255.0 L219.8 252.7 L221.0 248.3 L222.2 246.2 L223.5 243.3 L224.6 245.4 L225.7 247.7 L226.8 251.7 L228.1 247.1 L229.3 245.0 L230.6 242.4 L231.8 238.3 L233.1 236.9 L234.3 236.7 L235.6 234.5 L236.8 233.3 L238.1 234.4 L239.3 235.8 L240.6 232.4 L241.8 231.7 L243.3 230.0 L244.4 230.5 L245.6 231.7 L246.7 233.3 L247.9 230.2 L249.2 225.8 L250.3 226.9 L251.4 228.1 L252.5 230.0 L253.8 229.5 L255.0 226.7 L256.1 230.0 L257.2 234.5 L258.3 236.7 L259.4 235.8 L260.6 233.4 L261.7 233.3 L262.9 235.5 L264.2 238.3 L265.0 232.7 L265.8 227.5 L267.1 233.7 L268.3 238.3 L269.4 241.2 L270.6 245.6 L271.7 248.3 L272.5 245.1 L273.3 241.7 L274.6 245.0 L275.8 250.0 L276.9 252.7 L277.9 252.2 L278.9 255.9 L280.0 256.7 L281.2 259.0 L282.5 263.3 L283.8 263.7 L285.0 266.7 L286.1 267.6 L287.2 270.7 L288.3 271.7 L289.1 271.9 L290.0 270.0 L291.1 270.7 L292.2 274.4 L293.3 276.7 L294.1 279.2 L295.0 281.7 L296.2 276.8 L297.5 270.0 L298.6 268.2 L299.7 267.8 L300.8 266.7 L301.9 269.6 L303.1 274.4 L304.2 276.7 L305.4 271.8 L306.7 268.3 L307.9 272.2 L309.2 273.3 L310.4 268.5 L311.7 265.0 L312.8 263.2 L313.9 263.3 L315.0 261.7 L316.1 262.2 L317.2 262.0 L318.3 263.3 L319.6 266.2 L320.8 268.3 L322.1 263.7 L323.3 261.7 L324.4 264.8 L325.6 266.7 L326.7 268.3 L327.9 266.7 L329.2 263.3 L330.3 267.0 L331.4 269.5 L332.5 273.3 L333.6 274.2 L334.7 275.3 L335.8 276.7 L337.1 281.2 L338.3 283.3 L339.1 288.7 L340.0 296.7 L341.2 289.6 L342.5 280.0 L343.8 281.9 L345.0 286.7 L346.2 289.1 L347.5 293.3 L348.3 300.0 L349.1 304.3 L350.0 310.0 L350.8 303.3 L352.1 312.0 L353.3 318.3 L354.1 326.7 L355.0 335.0 L355.8 350.0 L356.8 360.0 L357.8 370.8 L358.8 364.1 L359.7 355.0 L360.5 360.0 L361.3 366.7 L362.3 362.1 L363.2 357.9 L364.2 353.3 L365.4 362.4 L366.7 370.0 L367.9 378.3 L369.2 385.0 L370.0 375.5 L370.8 365.0 L372.1 359.5 L373.3 355.0 L374.3 349.1 L375.3 344.2 L376.4 354.4 L377.5 366.7 L378.4 366.6 L379.2 365.0 L380.0 370.5 L380.8 375.0 L381.6 373.3 L382.5 370.0 L383.4 374.8 L384.2 381.7 L385.0 383.2 L385.8 385.0 L386.9 399.6 L388.0 412.5 L389.0 402.3 L390.0 391.7 L391.2 382.2 L392.5 375.0 L393.4 384.0 L394.2 393.3 L395.0 389.5 L395.8 383.3 L396.8 378.3 L397.7 374.0 L398.7 370.8 L399.8 371.6 L400.8 373.3 L401.6 376.9 L402.5 379.2 L403.5 377.2 L404.5 372.0 L405.5 370.0 L406.4 371.2 L407.4 373.7 L408.3 376.7 L409.4 377.6 L410.6 379.5 L411.7 380.8 L412.9 379.3 L414.2 379.2 L415.4 371.2 L416.7 364.2 L417.9 363.2 L419.2 363.3 L420.4 369.8 L421.7 373.3 L422.9 379.0 L424.2 383.3 L425.4 384.0 L426.7 386.7 L428.0 396.7 L429.0 394.8 L430.0 390.0 L431.0 388.3 L432.0 388.3 L433.1 384.2 L434.2 380.8 L435.4 387.7 L436.7 391.7 L437.9 391.8 L439.2 390.8 L440.4 387.0 L441.7 381.7 L442.9 386.0 L444.2 390.8 L445.0 390.3 L445.8 390.8 L447.1 396.7 L448.3 401.7 L449.3 404.3 L450.3 408.5 L451.3 413.3 L452.3 410.9 L453.3 409.2 L454.1 411.5 L455.0 416.7 L455.9 420.5 L456.7 425.0 L457.7 426.5 L458.7 426.7 L459.5 429.8 L460.3 431.7 L461.2 433.0 L462.2 434.2" fill="none" stroke="#151515" stroke-width="2.6" stroke-linejoin="round" stroke-linecap="round"/>
<path d="M97.7 186.7 L98.7 188.8 L99.7 189.9 L100.7 190.4 L101.7 193.7 L102.7 195.0 L103.8 196.8 L104.9 200.4 L106.0 201.7 L107.1 207.8 L108.2 210.3 L109.3 215.0 L110.4 219.7 L111.6 224.9 L112.7 228.3 L113.7 223.8 L114.8 218.9 L115.8 216.7 L116.8 211.7 L117.9 211.2 L119.1 208.8 L120.2 205.8 L121.3 206.9 L122.4 207.8 L123.5 207.5 L124.6 210.1 L125.7 211.9 L126.8 213.3 L127.8 215.6 L128.9 217.5 L129.9 221.3 L131.0 223.3 L132.2 228.4 L133.5 236.7 L134.6 233.0 L135.7 231.2 L136.8 226.7 L137.9 228.4 L139.1 229.3 L140.2 230.0 L141.3 232.9 L142.4 237.5 L143.5 241.7 L144.6 240.3 L145.6 239.6 L146.6 237.7 L147.7 236.7 L148.8 231.8 L149.9 227.3 L151.0 220.0 L152.1 215.4 L153.2 214.0 L154.3 210.0 L155.4 209.0 L156.4 205.4 L157.4 203.7 L158.5 201.7 L159.6 204.6 L160.7 202.9 L161.8 205.8 L162.9 207.4 L163.9 207.6 L164.9 211.2 L166.0 211.7 L167.1 215.7 L168.2 216.2 L169.3 218.3 L170.4 217.8 L171.4 219.3 L172.4 219.7 L173.5 220.0 L174.8 225.9 L176.0 230.0 L177.1 232.3 L178.2 235.0 L179.3 236.7 L180.4 237.3 L181.6 236.7 L182.7 236.7 L183.9 241.3 L185.2 246.7 L186.4 255.2 L187.7 260.0 L188.5 261.7 L189.3 265.8" fill="none" stroke="#ef4623" stroke-width="4.4" stroke-linejoin="round" stroke-linecap="round"/>
<g font-size="24.6" fill="#111" stroke="#111" stroke-width="0.3"><text x="86.2" y="194.2" text-anchor="end">0</text><text x="86.2" y="281.4" text-anchor="end">-20</text><text x="86.2" y="368.6" text-anchor="end">-40</text><text x="86.2" y="455.9" text-anchor="end">-60</text><text x="86.2" y="543.1" text-anchor="end">-80</text><text x="86.2" y="630.4" text-anchor="end">-100</text><text x="97.5" y="654.9" text-anchor="middle">0</text><text x="200.1" y="654.9" text-anchor="middle">100</text><text x="302.6" y="654.9" text-anchor="middle">200</text><text x="405.2" y="654.9" text-anchor="middle">300</text><text x="507.8" y="654.9" text-anchor="middle">400</text><text x="610.4" y="654.9" text-anchor="middle">500</text><text x="712.9" y="654.9" text-anchor="middle">600</text><text x="815.5" y="654.9" text-anchor="middle">700</text></g>
<g><text x="101.90" y="168.2" font-size="24" font-style="italic" fill="#111" stroke="#111" stroke-width="0.3" textLength="282.73" lengthAdjust="spacingAndGlyphs">% change from peak close</text><text x="488.62" y="606.7" font-size="24" font-style="italic" fill="#111" stroke="#111" stroke-width="0.3" textLength="317.14" lengthAdjust="spacingAndGlyphs">Trading days since peak close</text><text x="160.92" y="288.0" font-size="22" fill="#d8482d" stroke="#d8482d" stroke-width="0.3" textLength="60.66" lengthAdjust="spacingAndGlyphs">2022+</text><text x="255.05" y="408.3" font-size="22" fill="#999" stroke="#999" stroke-width="0.3" textLength="46.35" lengthAdjust="spacingAndGlyphs">1937</text><text x="420.62" y="457.0" font-size="22" fill="#222" stroke="#222" stroke-width="0.3" textLength="79.32" lengthAdjust="spacingAndGlyphs">2007-09</text><text x="547.25" y="392.3" font-size="22" fill="#6e6e6e" stroke="#6e6e6e" stroke-width="0.3" textLength="76.66" lengthAdjust="spacingAndGlyphs">1973-74</text><text x="709.12" y="422.4" font-size="22" fill="#444" stroke="#444" stroke-width="0.3" textLength="78.81" lengthAdjust="spacingAndGlyphs">2000-02</text><text x="706.65" y="571.9" font-size="22" fill="#c2c2c2" stroke="#c2c2c2" stroke-width="0.3" textLength="77.07" lengthAdjust="spacingAndGlyphs">1929-32</text></g>
<g class="ser" fill="#111" stroke="#111" stroke-width="0.4"><text x="307.8" y="36.7" font-size="32.8" textLength="80.41" lengthAdjust="spacingAndGlyphs">T<tspan font-size="24.4" stroke-width="0.7">HERE</tspan></text><text x="395.9" y="36.7" font-size="32.8" textLength="71.83" lengthAdjust="spacingAndGlyphs">W<tspan font-size="24.4" stroke-width="0.7">ILL</tspan></text><text x="475.49" y="36.7" font-size="32.8" textLength="33.33" lengthAdjust="spacingAndGlyphs">B<tspan font-size="24.4" stroke-width="0.7">E</tspan></text><text x="518.35" y="36.7" font-size="32.8" textLength="85.36" lengthAdjust="spacingAndGlyphs">B<tspan font-size="24.4" stroke-width="0.7">LOOD</tspan></text><text x="154.0" y="91.3" font-size="29" textLength="47.66" lengthAdjust="spacingAndGlyphs">The</text><text x="208.83" y="91.3" font-size="29" textLength="72.19" lengthAdjust="spacingAndGlyphs">2022+</text><text x="287.73" y="91.3" font-size="29" textLength="52.92" lengthAdjust="spacingAndGlyphs">Bear</text><text x="353.24" y="91.3" font-size="29" textLength="89.0" lengthAdjust="spacingAndGlyphs">Market</text><text x="451.2" y="91.3" font-size="29" textLength="24.1" lengthAdjust="spacingAndGlyphs">in</text><text x="482.02" y="91.3" font-size="29" textLength="124.07" lengthAdjust="spacingAndGlyphs">Historical</text><text x="612.91" y="91.3" font-size="29" textLength="145.72" lengthAdjust="spacingAndGlyphs">Perspective</text></g>
</svg>
</body></html>
